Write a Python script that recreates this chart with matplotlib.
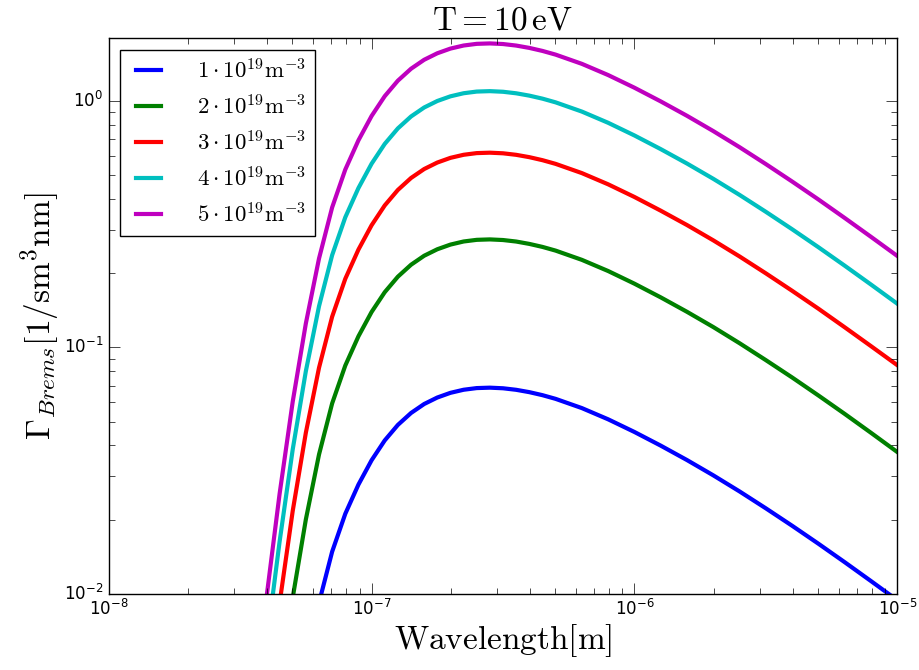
import numpy as np
import matplotlib
matplotlib.use("Agg")
import matplotlib.pyplot as plt
from matplotlib.ticker import FuncFormatter, LogLocator

plt.style.use("classic")
plt.rcParams["axes.unicode_minus"] = False
plt.rcParams["mathtext.fontset"] = "cm"

# ---- data (wavelength [m], Gamma_Brems [1/(s m^3 nm)]) ----
labels = [r"$1\cdot10^{19}\mathrm{m^{-3}}$", r"$2\cdot10^{19}\mathrm{m^{-3}}$",
          r"$3\cdot10^{19}\mathrm{m^{-3}}$", r"$4\cdot10^{19}\mathrm{m^{-3}}$",
          r"$5\cdot10^{19}\mathrm{m^{-3}}$"]
colors = ["b", "g", "r", "c", "m"]

# common wavelength samples (right part of the curves)
wl_common = [6.310e-8, 7.079e-8, 7.943e-8, 8.913e-8, 1.0e-7, 1.122e-7, 1.259e-7,
             1.413e-7, 1.585e-7, 1.778e-7, 1.995e-7, 2.239e-7, 2.512e-7, 2.818e-7,
             3.162e-7, 3.548e-7, 3.981e-7, 4.467e-7, 5.012e-7, 6.310e-7, 7.943e-7,
             1.0e-6, 1.259e-6, 1.585e-6, 1.995e-6, 2.512e-6, 3.162e-6, 3.981e-6,
             5.012e-6, 6.310e-6, 7.943e-6, 1.0e-5]
# extra short-wavelength samples where the denser curves rise out of the bottom
wl_short = [3.981e-8, 4.169e-8, 4.467e-8, 5.012e-8, 5.623e-8]

gam_n1 = [0.00919, 0.01481, 0.02111, 0.02774, 0.03482, 0.04191, 0.04846,
          0.05418, 0.05892, 0.06260, 0.06541, 0.06732, 0.06838, 0.06865,
          0.06826, 0.06729, 0.06583, 0.06400, 0.06183, 0.05671, 0.05106,
          0.04536, 0.03992, 0.03488, 0.03024, 0.02601, 0.02221, 0.01887,
          0.01595, 0.01342, 0.01125, 0.00941]

gam_n2_short = [None, None, None, 0.00964, 0.02003]
gam_n2 = [0.03675, 0.05925, 0.08443, 0.1110, 0.1393, 0.1676, 0.1938,
          0.2167, 0.2357, 0.2504, 0.2616, 0.2693, 0.2735, 0.2746,
          0.2730, 0.2692, 0.2633, 0.2560, 0.2473, 0.2268, 0.2043,
          0.1815, 0.1597, 0.1395, 0.1210, 0.1040, 0.0888, 0.0755,
          0.0638, 0.0537, 0.0450, 0.0376]

gam_n3_short = [None, None, 0.00915, 0.02169, 0.04507]
gam_n3 = [0.08269, 0.1333, 0.1900, 0.2497, 0.3134, 0.3772, 0.4361,
          0.4877, 0.5302, 0.5634, 0.5887, 0.6058, 0.6154, 0.6178,
          0.6143, 0.6056, 0.5925, 0.5760, 0.5565, 0.5104, 0.4596,
          0.4083, 0.3592, 0.3140, 0.2722, 0.2341, 0.1999, 0.1698,
          0.1436, 0.1207, 0.1012, 0.0847]

gam_n4_short = [None, 0.00913, 0.01626, 0.03856, 0.08013]
gam_n4 = [0.1470, 0.2370, 0.3377, 0.4439, 0.5572, 0.6706, 0.7754,
          0.8669, 0.9427, 1.0017, 1.0465, 1.0771, 1.0941, 1.0984,
          1.0921, 1.0766, 1.0533, 1.0240, 0.9892, 0.9073, 0.8170,
          0.7258, 0.6387, 0.5581, 0.4839, 0.4162, 0.3554, 0.3019,
          0.2552, 0.2147, 0.1800, 0.1505]

gam_n5_short = [0.00960, None, 0.02541, 0.06025, 0.1252]
gam_n5 = [0.2297, 0.3703, 0.5277, 0.6936, 0.8706, 1.0478, 1.2115,
          1.3546, 1.4729, 1.5651, 1.6352, 1.6829, 1.7095, 1.7162,
          1.7064, 1.6822, 1.6458, 1.6000, 1.5457, 1.4177, 1.2766,
          1.1341, 0.9979, 0.8721, 0.7561, 0.6503, 0.5553, 0.4717,
          0.3988, 0.3354, 0.2812, 0.2352]

short_parts = [[None] * 5, gam_n2_short, gam_n3_short, gam_n4_short, gam_n5_short]
main_parts = [gam_n1, gam_n2, gam_n3, gam_n4, gam_n5]

title = r"$\mathrm{T = 10\,eV}$"
xlabel = r"$\mathrm{Wavelength[m]}$"
ylabel = r"$\Gamma_{Brems}[\mathrm{1/sm^3nm}]$"

# ---- figure ----
fig = plt.figure(figsize=(9.19, 6.7), dpi=100, facecolor="white")
ax = fig.add_axes([0.1183, 0.1139, 0.8581, 0.8289])
ax.set_facecolor("white")

for sp, mp, c, lab in zip(short_parts, main_parts, colors, labels):
    xs = [w for w, v in zip(wl_short, sp) if v is not None] + list(wl_common)
    ys = [v for v in sp if v is not None] + list(mp)
    ax.plot(xs, ys, color=c, lw=3, label=lab)

ax.set_xscale("log")
ax.set_yscale("log")
ax.set_xlim(1e-8, 1e-5)
ax.set_ylim(1e-2, 1.8)


def dec_fmt(v, pos):
    e = int(round(np.log10(v)))
    return r"$\mathdefault{10^{%d}}$" % e


ax.xaxis.set_major_locator(LogLocator(base=10, numticks=10))
ax.yaxis.set_major_locator(LogLocator(base=10, numticks=10))
ax.xaxis.set_major_formatter(FuncFormatter(dec_fmt))
ax.yaxis.set_major_formatter(FuncFormatter(dec_fmt))
ax.tick_params(axis="both", which="major", labelsize=12, direction="in", length=8,
               top=True, right=True)
ax.tick_params(axis="both", which="minor", direction="in", length=4, top=True, right=True)

ax.set_title(title, fontsize=24, pad=6)
ax.set_xlabel(xlabel, fontsize=24, labelpad=2)
ax.set_ylabel(ylabel, fontsize=24, labelpad=2)

leg = ax.legend(loc="upper left", fontsize=16.5, frameon=True, fancybox=False,
                borderaxespad=0.5, handlelength=1.7, handletextpad=1.25,
                labelspacing=0.5)
leg.get_frame().set_edgecolor("black")
leg.get_frame().set_linewidth(1.0)

fig.savefig("out.png", dpi=100, facecolor="white")
